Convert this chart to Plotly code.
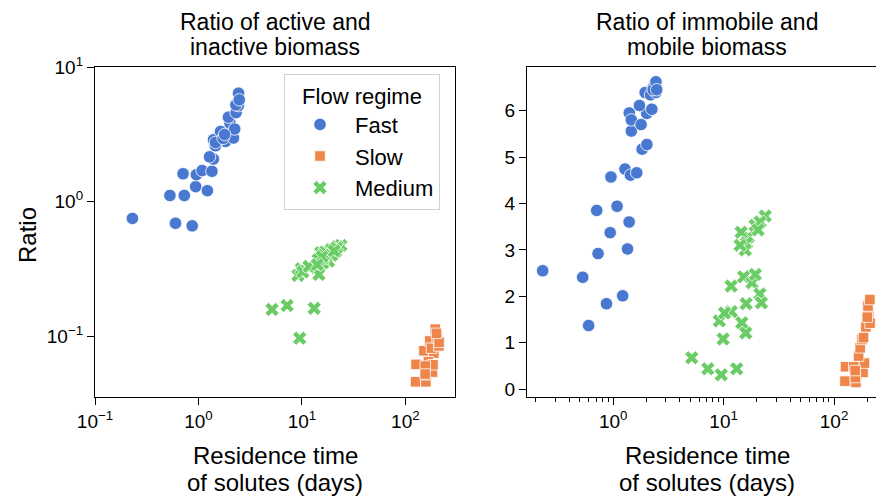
import plotly.graph_objects as go

# ---------------- data ----------------
fast_time = [0.23, 0.53, 0.60, 0.71, 0.73, 0.87, 0.94, 0.955, 1.085, 1.22, 1.35, 1.395, 1.28, 1.435,
             1.40, 1.635, 1.83, 2.02, 2.015, 1.95, 2.18, 2.24, 2.31, 2.43, 2.30, 2.44, 2.48, 1.46,
             1.46, 1.73, 1.79]
fast_active = [0.75, 1.11, 0.69, 1.61, 1.11, 0.66, 1.29, 1.585, 1.70, 1.205, 1.68, 2.07, 2.15, 2.64,
               2.88, 3.32, 2.80, 3.08, 3.83, 4.24, 2.97, 3.46, 4.58, 5.16, 5.23, 6.39, 5.70, 2.60,
               2.75, 2.95, 3.15]
fast_immobile = [2.55, 2.41, 1.37, 3.85, 2.92, 1.84, 3.37, 4.57, 3.94, 2.01, 3.02, 3.60, 4.74, 4.61,
                 5.95, 4.66, 5.17, 5.27, 5.94, 6.39, 6.34, 6.03, 6.50, 6.39, 6.45, 6.62, 6.45, 5.56,
                 5.80, 6.11, 5.70]

slow_time = [125.6, 127, 157.9, 151, 160, 183, 188.5, 167, 172.5, 179, 185, 194.5, 206, 203, 211,
             156, 155.4, 212, 200]
slow_active = [0.0458, 0.0617, 0.0458, 0.0779, 0.0517, 0.0541, 0.0748, 0.0645, 0.0922, 0.0815,
               0.0613, 0.1127, 0.0977, 0.0966, 0.0847, 0.060, 0.0523, 0.090, 0.105]
slow_immobile = [0.172, 0.481, 0.144, 0.481, 0.295, 0.360, 0.560, 0.711, 0.890, 1.07, 1.11, 1.34,
                 1.63, 1.79, 1.93, 0.25, 0.40, 1.42, 1.55]

med_time = [5.15, 7.2, 9.53, 13.15, 9.15, 9.9, 11.75, 14.6, 15.2, 16.7, 18.1, 21.3, 23.8, 22.0,
            10.2, 15.9, 16.0, 11.7, 19.4, 14.4, 19.3, 21.4, 16.2, 15.7, 20.5, 14.1]
med_active = [0.158, 0.169, 0.0966, 0.161, 0.283, 0.317, 0.323, 0.288, 0.417, 0.421, 0.361, 0.428,
              0.472, 0.461, 0.30, 0.35, 0.38, 0.33, 0.40, 0.37, 0.44, 0.45, 0.40, 0.39, 0.43, 0.34]
med_immobile = [0.675, 0.437, 0.308, 0.437, 1.47, 1.08, 1.67, 1.43, 2.42, 3.28, 2.29, 2.05, 3.73,
                1.86, 1.64, 1.21, 1.84, 2.22, 2.47, 3.38, 3.53, 3.60, 3.15, 3.0, 3.43, 3.1]

regimes = ["Fast", "Slow", "Medium"]
colors = {"Fast": "#4878d0", "Slow": "#ee854a", "Medium": "#6acc64"}
symbols = {"Fast": "circle", "Slow": "square", "Medium": "x"}
sizes = {"Fast": 12.5, "Slow": 10.5, "Medium": 12.5}
series = {
    "Fast": (fast_time, fast_active, fast_immobile),
    "Slow": (slow_time, slow_active, slow_immobile),
    "Medium": (med_time, med_active, med_immobile),
}

left_title = ["Ratio of active and", "inactive biomass"]
right_title = ["Ratio of immobile and", "mobile biomass"]
x_title = ["Residence time", "of solutes (days)"]
y_title = "Ratio"
legend_title = "Flow regime"

x_left_ticks = [0.1, 1, 10, 100]
x_left_text = ["10<sup>−1</sup>", "10<sup>0</sup>", "10<sup>1</sup>", "10<sup>2</sup>"]
y_left_ticks = [0.1, 1, 10]
y_left_text = ["10<sup>−1</sup>", "10<sup>0</sup>", "10<sup>1</sup>"]
x_right_ticks = [1, 10, 100]
x_right_text = ["10<sup>0</sup>", "10<sup>1</sup>", "10<sup>2</sup>"]
y_right_ticks = [0, 1, 2, 3, 4, 5, 6]

# ---------------- layout geometry ----------------
W, H = 876, 498
FONT = "Liberation Sans, Arial, Helvetica, sans-serif"
left_dom = [95 / W, 455 / W]
right_dom = [527 / W, 1.0]
ydom = [1 - 397 / H, 1 - 67 / H]

minor_right = [m * 10 ** e for e in (-1, 0, 1, 2) for m in range(2, 10) if 0.166 < m * 10 ** e < 240]

fig = go.Figure()
for r in regimes:
    t, a, im = series[r]
    mk = dict(color=colors[r], symbol=symbols[r], size=sizes[r],
              line=dict(color="white", width=0.8))
    fig.add_trace(go.Scatter(x=t, y=a, mode="markers", name=r, marker=mk,
                             xaxis="x", yaxis="y", showlegend=True))
for r in regimes:
    t, a, im = series[r]
    mk = dict(color=colors[r], symbol=symbols[r], size=sizes[r],
              line=dict(color="white", width=0.8))
    fig.add_trace(go.Scatter(x=t, y=im, mode="markers", name=r, marker=mk,
                             xaxis="x2", yaxis="y2", showlegend=False))

axis_common = dict(showgrid=False, zeroline=False, showline=True, linecolor="black",
                   linewidth=1.2, ticks="outside", ticklen=7, tickwidth=1.2, automargin=False,
                   tickcolor="black", tickfont=dict(size=19, color="black", family=FONT))

fig.update_layout(
    width=W, height=H,
    margin=dict(l=0, r=0, t=0, b=0),
    paper_bgcolor="white", plot_bgcolor="white",
    font=dict(family=FONT, color="black"),
    xaxis=dict(domain=left_dom, anchor="y", type="log", range=[-1, 2.48],
               tickvals=x_left_ticks, ticktext=x_left_text, mirror=True, **axis_common),
    yaxis=dict(domain=ydom, anchor="x", type="log", range=[-1.452, 1],
               tickvals=y_left_ticks, ticktext=y_left_text, mirror=True, **axis_common),
    xaxis2=dict(domain=right_dom, anchor="y2", type="log", range=[-0.78, 2.38],
                tickvals=x_right_ticks, ticktext=x_right_text, mirror=True,
                minor=dict(tickvals=minor_right, ticks="outside", ticklen=4, tickwidth=0.9,
                           tickcolor="black"),
                **axis_common),
    yaxis2=dict(domain=ydom, anchor="x2", range=[-0.17, 6.94], tickvals=y_right_ticks,
                mirror=False, **axis_common),
    legend=dict(x=284 / W, y=1 - 74 / H, xanchor="left", yanchor="top",
                bgcolor="rgba(255,255,255,0.85)", bordercolor="#d0d0d0", borderwidth=1,
                itemwidth=60,
                font=dict(size=22, family=FONT, color="black"),
                title=dict(text=legend_title, side="top center",
                           font=dict(size=22, family=FONT, color="black"))),
)

ann = []
def add_text(txt, cx, cy, size, angle=0):
    ann.append(dict(text=txt, x=cx / W, y=1 - cy / H, xref="paper", yref="paper",
                    showarrow=False, xanchor="center", yanchor="middle", textangle=angle,
                    font=dict(size=size, family=FONT, color="black")))

for cx, lines in ((275, left_title), (707, right_title)):
    add_text(lines[0], cx, 22, 23)
    add_text(lines[1], cx, 47, 23)
for cx in (275, 707):
    add_text(x_title[0], cx, 455, 24)
    add_text(x_title[1], cx, 482, 24)
add_text(y_title, 27, 235, 24, -90)
fig.update_layout(annotations=ann)

fig.write_html("out.html", config={"displayModeBar": False},
               post_script="document.body.style.margin='0';document.body.style.overflow='hidden';")
